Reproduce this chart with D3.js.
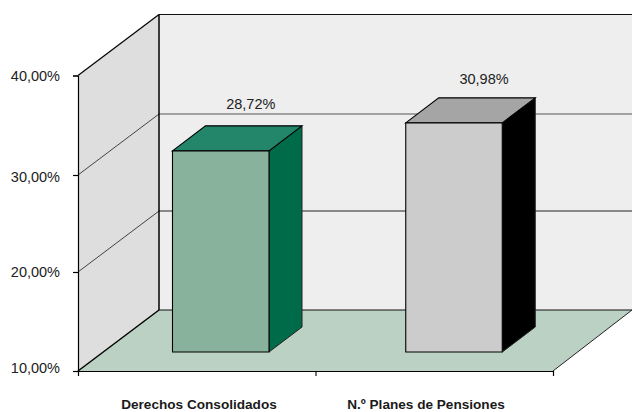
<!DOCTYPE html>
<html>
<head>
<meta charset="utf-8">
<script src="https://cdn.jsdelivr.net/npm/d3@7"></script>
<style>
html,body{margin:0;padding:0;background:#fff}
svg{display:block;font-family:"Liberation Sans",Arial,sans-serif}
</style>
</head>
<body>
<svg id="chart" width="632" height="412"></svg>
<script>
// Chart data
const categories = ["Derechos Consolidados", "N.º Planes de Pensiones"];
const values = [28.72, 30.98];
const axisTicks = [10, 20, 30, 40];
const frontColors = ["#88b29c", "#cccccc"];
const topColors = ["#23856a", "#a5a5a5"];
const sideColors = ["#006b49", "#000000"];

const svg = d3.select("#chart");
const fmt = v => v.toFixed(2).replace(".", ",") + "%";

// Oblique projection: depth of the box and depth of the bars
const depth = { dx: 81, dy: -61 };
const barDepth = { dx: 33, dy: -25 };

const y = d3.scaleLinear().domain(axisTicks).range([371, 272, 175, 75.5]);
const x = d3.scaleLinear().domain([0, 2]).range([78, 553]);
const yBar = d3.scaleLinear().domain([12.5, 40]).range([352, 11]);
const xBar = d3.scalePoint().domain(categories).range([220.75, 454]);
const xLabel = d3.scalePoint().domain(categories).range([199, 426]);
const barWidth = 96.5;

const line = d3.line();
const poly = (pts, fill, stroke, sw) => svg.append("path")
  .attr("d", line(pts) + "Z")
  .attr("fill", fill)
  .attr("stroke", stroke || "none")
  .attr("stroke-width", sw || 0)
  .attr("stroke-linejoin", "miter");

const x0 = x(0), x1 = x(2), yB = y(10), yT = y(40);
const back = (px, py) => [px + depth.dx, py + depth.dy];

// Walls and floor
poly([back(x0, yT), [632, yT + depth.dy], [632, yB + depth.dy], back(x0, yB)], "#eeeeee");
poly([[x0, yT], back(x0, yT), back(x0, yB), [x0, yB]], "#dedede");
poly([[x0, yB], back(x0, yB), [632, yB + depth.dy], [x1, yB]], "#bbd1c3");

// Gridlines along the side wall and back wall
const seg = (a, b, color, w) => svg.append("line")
  .attr("x1", a[0]).attr("y1", a[1]).attr("x2", b[0]).attr("y2", b[1])
  .attr("stroke", color).attr("stroke-width", w);

axisTicks.filter(t => t > 10 && t < 40).forEach(t => {
  seg([x0, y(t)], back(x0, y(t)), "#1a1a1a", 0.8);
  seg(back(x0, y(t)), [632, y(t) + depth.dy], t === 30 ? "#555555" : "#222222", 1.2);
});

// Box outline
seg(back(x0, yT), [632, yT + depth.dy], "#111", 1.2);
seg(back(x0, yB), [632, yB + depth.dy], "#111", 1.2);
seg(back(x0, yT), back(x0, yB), "#000", 1.5);
seg([x0, yT], back(x0, yT), "#000", 1.2);
seg([x0, yB], back(x0, yB), "#000", 1.5);
seg([x1, yB], [632, yB + depth.dy], "#222", 1);

// Bars
categories.forEach((c, i) => {
  const l = xBar(c) - barWidth / 2, r = l + barWidth;
  const t = yBar(values[i]), b = yBar.range()[0];
  const { dx, dy } = barDepth;
  poly([[r, t], [r + dx, t + dy], [r + dx, b + dy], [r, b]], sideColors[i], "#222", 1);
  poly([[l, t], [l + dx, t + dy], [r + dx, t + dy], [r, t]], topColors[i], "#000", 1.1);
  poly([[l, t], [r, t], [r, b], [l, b]], frontColors[i], "#000", 1.1);
  svg.append("text")
    .attr("x", xBar(c) + dx - 3)
    .attr("y", t + dy - (i === 0 ? 17 : 14))
    .attr("text-anchor", "middle")
    .attr("font-size", 14.5)
    .attr("fill", "#222")
    .text(fmt(values[i]));
});

// Value axis
const tickNudge = t => (t === 10 ? -3 : t === 30 ? 2 : 0);
const yAxis = svg.append("g")
  .attr("transform", `translate(${x0},0)`)
  .call(d3.axisLeft(y).tickValues(axisTicks).tickFormat(fmt).tickSize(5).tickPadding(13));
yAxis.selectAll("text")
  .attr("font-size", 14.5).attr("font-family", "Liberation Sans").attr("fill", "#222")
  .attr("dy", "0.32em")
  .attr("y", d => tickNudge(d));
yAxis.selectAll("path,line").attr("stroke", "#000").attr("stroke-width", 1.2);

// Category axis
const xAxis = svg.append("g")
  .attr("transform", `translate(0,${yB})`)
  .call(d3.axisBottom(x).tickValues([0, 1, 2]).tickFormat("").tickSize(5));
xAxis.selectAll("path,line").attr("stroke", "#000").attr("stroke-width", 1.1);

svg.selectAll(".cat").data(categories).join("text")
  .attr("class", "cat")
  .attr("x", d => xLabel(d))
  .attr("y", 409)
  .attr("text-anchor", "middle")
  .attr("font-size", 13.6)
  .attr("font-weight", "bold")
  .attr("fill", "#1a1a1a")
  .text(d => d);
</script>
</body>
</html>
